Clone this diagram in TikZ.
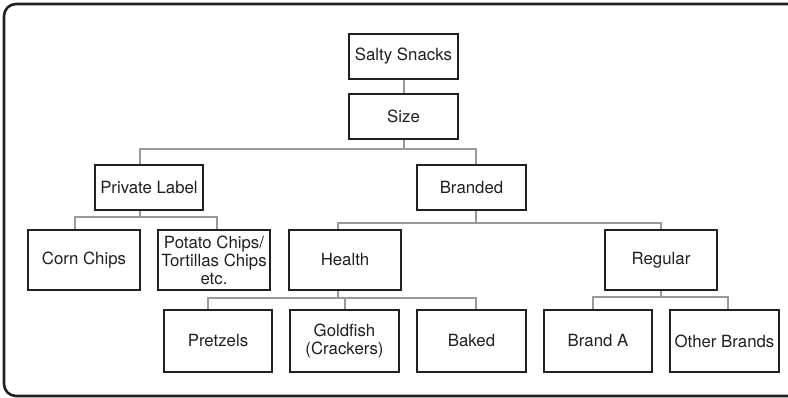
\documentclass[tikz,border=0pt]{standalone}
\usepackage{fontspec}
\setmainfont{TeX Gyre Heros}
\definecolor{ink}{HTML}{231F20}
\definecolor{linkgray}{HTML}{9A9A9A}
\begin{document}
\begin{tikzpicture}[x=1pt,y=-1pt,
    box/.style={draw=ink, line width=2.6pt, fill=white, inner sep=0pt, align=center,
      font=\fontsize{16.8}{18}\selectfont, text=ink},
    link/.style={draw=linkgray, line width=2pt}]
      \useasboundingbox (0,0) rectangle (788,398);
      \draw[ink, line width=2.6pt, rounded corners=12pt] (4,4) rectangle (840,396);

      \node[box, minimum width=109, minimum height=45] (salty) at (403.5,56.5) {Salty Snacks};
      \node[box, minimum width=109, minimum height=45] (size) at (403.5,116.5) {Size};
      \node[box, minimum width=108, minimum height=45] (priv) at (149,187.5) {Private Label};
      \node[box, minimum width=109, minimum height=45] (brand) at (471.5,187.5) {Branded};
      \node[box, minimum width=112, minimum height=60] (corn) at (84,260) {Corn Chips};
      \node[box, minimum width=112, minimum height=60] (potato) at (214,260) {Potato Chips/\\Tortillas Chips\\etc.};
      \node[box, minimum width=112, minimum height=60] (health) at (345,260) {Health};
      \node[box, minimum width=112, minimum height=60] (regular) at (661,260) {Regular};
      \node[box, minimum width=108, minimum height=62] (pretzels) at (218,341) {Pretzels};
      \node[box, minimum width=109, minimum height=62] (goldfish) at (344.5,341) {Goldfish\\(Crackers)};
      \node[box, minimum width=109, minimum height=62] (baked) at (471.5,341) {Baked};
      \node[box, minimum width=108, minimum height=62] (branda) at (598,341) {Brand A};
      \node[box, minimum width=109, minimum height=62] (other) at (724.5,341) {Other Brands};

      \draw[link] (salty.south) -- (size.north);
      \draw[link] (size.south) -- ++(0,9) -| ([xshift=-9pt]priv.north);
      \draw[link] (size.south) -- ++(0,9) -| ([xshift=4pt]brand.north);
      \draw[link] ([xshift=-9pt]priv.south) -- ++(0,6) -| ([xshift=-9pt]corn.north);
      \draw[link] ([xshift=-9pt]priv.south) -- ++(0,6) -| ([xshift=3pt]potato.north);
      \draw[link] ([xshift=4pt]brand.south) -- ++(0,12) -| ([xshift=-7pt]health.north);
      \draw[link] ([xshift=4pt]brand.south) -- ++(0,12) -| (regular.north);
      \draw[link] ([xshift=-7pt]health.south) -- ++(0,7) -| ([xshift=-10pt]pretzels.north);
      \draw[link] ([xshift=-7pt]health.south) -- ++(0,7) -| (goldfish.north);
      \draw[link] ([xshift=-7pt]health.south) -- ++(0,7) -| ([xshift=4pt]baked.north);
      \draw[link] (regular.south) -- ++(0,6) -| ([xshift=-5pt]branda.north);
      \draw[link] (regular.south) -- ++(0,6) -| ([xshift=3pt]other.north);
\end{tikzpicture}
\end{document}
